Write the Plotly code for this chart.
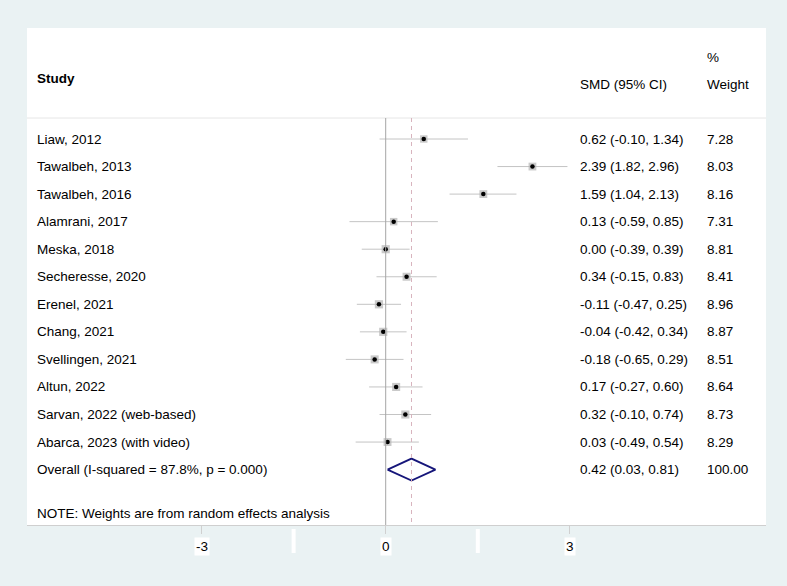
import plotly.graph_objects as go

# ---------------- data ----------------
studies = ["Liaw, 2012", "Tawalbeh, 2013", "Tawalbeh, 2016", "Alamrani, 2017",
           "Meska, 2018", "Secheresse, 2020", "Erenel, 2021", "Chang, 2021",
           "Svellingen, 2021", "Altun, 2022", "Sarvan, 2022 (web-based)",
           "Abarca, 2023 (with video)"]
smd = [0.62, 2.39, 1.59, 0.13, 0.00, 0.34, -0.11, -0.04, -0.18, 0.17, 0.32, 0.03]
ci_low = [-0.10, 1.82, 1.04, -0.59, -0.39, -0.15, -0.47, -0.42, -0.65, -0.27, -0.10, -0.49]
ci_high = [1.34, 2.96, 2.13, 0.85, 0.39, 0.83, 0.25, 0.34, 0.29, 0.60, 0.74, 0.54]
weights = [7.28, 8.03, 8.16, 7.31, 8.81, 8.41, 8.96, 8.87, 8.51, 8.64, 8.73, 8.29]

overall_label = "Overall (I-squared = 87.8%, p = 0.000)"
overall_smd = 0.42
overall_low = 0.03
overall_high = 0.81
overall_weight = 100.00

tick_vals = [-3, 0, 3]
tick_labels = ["-3", "0", "3"]
note_text = "NOTE: Weights are from random effects analysis"

# ---------------- layout helpers ----------------
W, H = 787, 586
PL, PR, PT, PB = 27, 766, 28, 525      # plot area in pixels
X0PIX, UNIT = 385.7, 61.4              # pixel of x=0 and px per unit
ROW1, STEP = 139.0, 27.55              # pixel of row 1, row step

def px2x(p):
    return (p - X0PIX) / UNIT

def py2row(p):
    return 1 + (p - ROW1) / STEP

def px2paper(p):
    return (p - PL) / (PR - PL)

def py2paper(p):
    return (PB - p) / (PB - PT)

rows = list(range(1, len(studies) + 1))
overall_row = len(studies) + 1

BG = "#EAF2F3"
TXT = "#000000"
FONT = "Liberation Sans, Arial, sans-serif"
FS = 13.5

fig = go.Figure()

# CI lines
for r, lo, hi in zip(rows, ci_low, ci_high):
    fig.add_trace(go.Scatter(x=[lo, hi], y=[r, r], mode="lines",
                             line=dict(color="#c4c4c4", width=1),
                             hoverinfo="skip", showlegend=False))

# weight boxes
fig.add_trace(go.Scatter(x=smd, y=rows, mode="markers",
                         marker=dict(symbol="square", color="#b3b3b3",
                                     size=[2.75 * w ** 0.5 for w in weights],
                                     line=dict(width=0)),
                         hoverinfo="skip", showlegend=False))
# point estimates
fig.add_trace(go.Scatter(x=smd, y=rows, mode="markers",
                         marker=dict(symbol="circle", color="black", size=4.5),
                         hoverinfo="skip", showlegend=False))

# diamond
dh = 11 / STEP
fig.add_trace(go.Scatter(
    x=[overall_low, overall_smd, overall_high, overall_smd, overall_low],
    y=[overall_row, overall_row - dh, overall_row, overall_row + dh, overall_row],
    mode="lines", line=dict(color="#16167a", width=1.8),
    hoverinfo="skip", showlegend=False))

shapes = []
# header separator
shapes.append(dict(type="line", xref="paper", yref="y", x0=0, x1=1,
                   y0=py2row(118), y1=py2row(118),
                   line=dict(color="#e6e6e6", width=1)))
# zero line
shapes.append(dict(type="line", xref="x", yref="y", x0=0, x1=0,
                   y0=py2row(118), y1=py2row(PB),
                   line=dict(color="#a6a6a6", width=1)))
# overall dashed line
shapes.append(dict(type="line", xref="x", yref="y", x0=overall_smd, x1=overall_smd,
                   y0=py2row(118), y1=py2row(PB),
                   line=dict(color="#d8b4be", width=1, dash="4px,4px")))
# blank white label slots (Stata artifact)
for xv in [-1.5, 1.5]:
    shapes.append(dict(type="rect", xref="x", yref="paper",
                       x0=xv - 2 / UNIT, x1=xv + 2 / UNIT,
                       y0=py2paper(553), y1=py2paper(529),
                       fillcolor="white", line=dict(width=0), layer="below"))

annotations = []
def add_text(text, xpix, ypix=None, row=None, bold=False, size=FS, anchor="left"):
    d = dict(text=("<b>%s</b>" % text) if bold else text,
             xref="paper", x=px2paper(xpix), xanchor=anchor,
             yanchor="middle", showarrow=False,
             font=dict(family=FONT, size=size, color=TXT))
    if row is not None:
        d.update(yref="y", y=row)
    else:
        d.update(yref="paper", y=py2paper(ypix))
    annotations.append(d)

# headers
add_text("Study", 35, ypix=78, bold=True)
add_text("SMD (95% CI)", 578, ypix=85)
add_text("%", 705, ypix=58)
add_text("Weight", 705, ypix=85)

for r, s, m, lo, hi, w in zip(rows, studies, smd, ci_low, ci_high, weights):
    add_text(s, 35, row=r)
    add_text("%.2f (%.2f, %.2f)" % (m, lo, hi), 578, row=r)
    add_text("%.2f" % w, 705, row=r)

add_text(overall_label, 35, row=overall_row)
add_text("%.2f (%.2f, %.2f)" % (overall_smd, overall_low, overall_high), 578, row=overall_row)
add_text("%.2f" % overall_weight, 705, row=overall_row)

add_text(note_text, 35, ypix=513)

# tick labels with white background
for tv, tl in zip(tick_vals, tick_labels):
    annotations.append(dict(text=tl, xref="x", x=tv, yref="paper", y=py2paper(546),
                            xanchor="center", yanchor="middle", showarrow=False,
                            bgcolor="white", borderpad=1,
                            font=dict(family=FONT, size=FS, color=TXT)))

fig.update_layout(
    width=W, height=H,
    margin=dict(l=PL, r=W - PR, t=PT, b=H - PB, pad=0),
    paper_bgcolor=BG, plot_bgcolor="white",
    shapes=shapes, annotations=annotations,
    xaxis=dict(range=[px2x(PL), px2x(PR)], tickvals=tick_vals, showticklabels=False,
               ticks="outside", ticklen=8, tickcolor="#d0d0d0", tickwidth=1,
               showline=True, linecolor="#cfcfcf", linewidth=1,
               showgrid=False, zeroline=False, fixedrange=True),
    yaxis=dict(range=[py2row(PB), py2row(PT)], showticklabels=False, ticks="",
               showgrid=False, zeroline=False, showline=False, fixedrange=True),
)

fig.write_html("out.html", config={"displayModeBar": False},
               post_script="document.body.style.margin='0';document.body.style.overflow='hidden';")
